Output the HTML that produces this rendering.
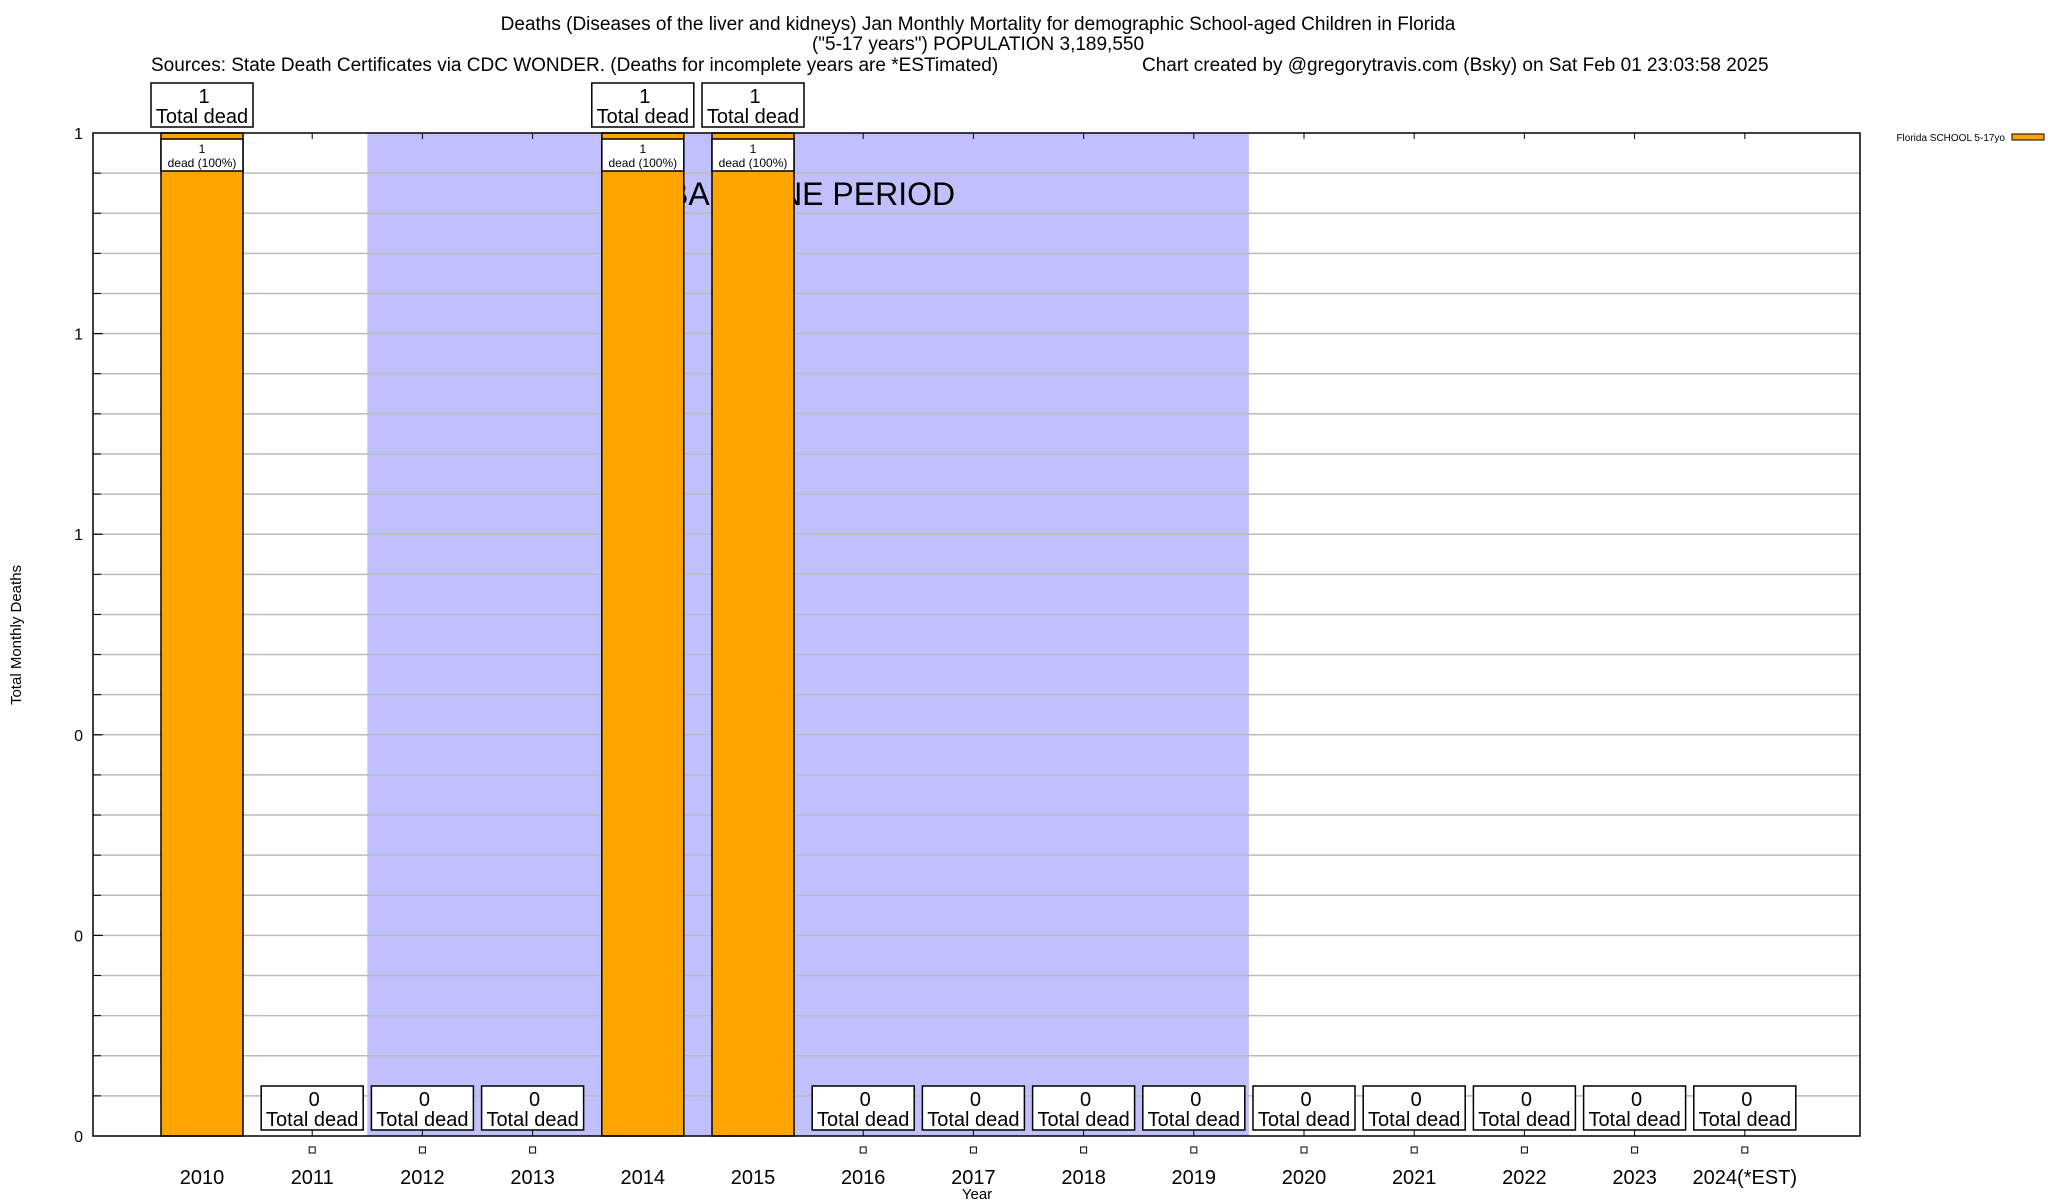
<!DOCTYPE html>
<html><head><meta charset="utf-8"><style>
html,body{margin:0;padding:0;background:#fff;}
svg{display:block;font-family:"Liberation Sans",Arial,sans-serif;}
</style></head><body>
<svg id="chart" width="2048" height="1200" viewBox="0 0 2048 1200">
<g font-size="19" fill="#000">
<text x="978" y="30" text-anchor="middle">Deaths (Diseases of the liver and kidneys) Jan Monthly Mortality for demographic School-aged Children in Florida</text>
<text x="978" y="50" text-anchor="middle">("5-17 years") POPULATION 3,189,550</text>
<text x="151" y="71">Sources: State Death Certificates via CDC WONDER. (Deaths for incomplete years are *ESTimated)</text>
<text x="1142" y="71">Chart created by @gregorytravis.com (Bsky) on Sat Feb 01 23:03:58 2025</text>
</g>
<g id="plot"></g>
<text transform="translate(21,635) rotate(-90)" text-anchor="middle" font-size="15">Total Monthly Deaths</text>
<text x="977" y="1199" text-anchor="middle" font-size="15">Year</text>
<g>
<text x="2005" y="141" text-anchor="end" font-size="10">Florida SCHOOL 5-17yo</text>
<rect x="2012" y="134" width="32" height="6" fill="#ffa500" stroke="#000" stroke-width="1"/>
</g>
</svg>
<script>
const categories = ["2010","2011","2012","2013","2014","2015","2016","2017","2018","2019","2020","2021","2022","2023","2024(*EST)"];
const deaths = [1,0,0,0,1,1,0,0,0,0,0,0,0,0,0];
const yTickLabels = ["0","0","0","1","1","1"];
const yTickValues = [0,0.2,0.4,0.6,0.8,1.0];
const baselineStart = 1.5, baselineEnd = 9.5;

const NS="http://www.w3.org/2000/svg";
const L=93,R=1860,T=133,B=1136;
const x0=202, dx=110.2;
const xs=i=>x0+dx*i;
const ys=v=>B-(B-T)*v;
const g=document.getElementById('plot');
function mk(tag,attrs,parent){const e=document.createElementNS(NS,tag);for(const k in attrs)e.setAttribute(k,attrs[k]);(parent||g).appendChild(e);return e;}

// baseline shading
let sh=mk('rect',{x:xs(baselineStart),y:T,width:xs(baselineEnd)-xs(baselineStart),height:B-T,fill:'#c0c0ff'});



// grid lines
for(let k=1;k<25;k++){
  const y=ys(k/25);
  let gl=mk('line',{x1:L,x2:R,y1:y,y2:y,stroke:'#bbb','stroke-width':1.5});
  
  
  let t1=mk('line',{x1:L,x2:L+8,y1:y,y2:y,stroke:'#000'});
  
  
}
let bt=mk('text',{x:667,y:205,'font-size':32});
bt.textContent='BASELINE PERIOD';



const bw=82;
categories.forEach((c,i)=>{
  const cx=xs(i), v=deaths[i];
  let tk=mk('line',{x1:cx,x2:cx,y1:T,y2:T+6,stroke:'#000'});
  
  
  let tb=mk('line',{x1:cx,x2:cx,y1:B,y2:B-6,stroke:'#000'});
  
  
  if(v>0){
    let bar=mk('rect',{x:cx-bw/2,y:ys(v),width:bw,height:B-ys(v),fill:'#ffa500',stroke:'#000','stroke-width':1.5});
    
    
    let ib=mk('rect',{x:cx-bw/2,y:ys(v)+6,width:bw,height:32,fill:'#fff',stroke:'#000','stroke-width':1.5});
    
    
    let it1=mk('text',{x:cx,y:ys(v)+20,'font-size':12,'text-anchor':'middle'});
    it1.textContent=String(v);
    
    
    let it2=mk('text',{x:cx,y:ys(v)+34,'font-size':12,'text-anchor':'middle'});
    it2.textContent='dead (100%)';
    
    
  } else {
    let mkr=mk('rect',{x:cx-3,y:1147,width:6,height:6,fill:'#fff',stroke:'#000','stroke-width':1});
    
    
  }
  const by = v>0 ? ys(v)-50 : B-50;
  let box=mk('rect',{x:cx-51,y:by,width:102,height:44,fill:'#fff',stroke:'#000','stroke-width':1.5});
  
  
  let v1=mk('text',{x:cx+2,y:by+20,'font-size':20,'text-anchor':'middle'});
  v1.textContent=String(v);
  
  
  let v2=mk('text',{x:cx,y:by+40,'font-size':20,'text-anchor':'middle'});
  v2.textContent='Total dead';
  
  
  let xl=mk('text',{x:cx,y:1184,'font-size':20,'text-anchor':'middle'});
  xl.textContent=c;
  
  
});

yTickValues.forEach((v,i)=>{
  const y=ys(v);
  let t=mk('text',{x:83,y:y+6,'font-size':16,'text-anchor':'end'});
  t.textContent=yTickLabels[i];
  
  
  let tk=mk('line',{x1:L,x2:L+10,y1:y,y2:y,stroke:'#000'});
  
  
});

let frame=mk('rect',{x:L,y:T,width:R-L,height:B-T,fill:'none',stroke:'#000','stroke-width':1.5});


</script>
</body></html>
